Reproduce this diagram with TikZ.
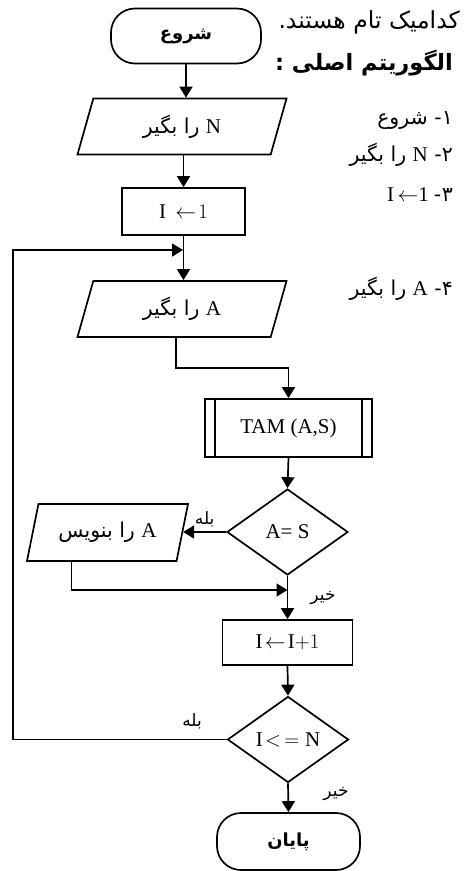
\documentclass[tikz,border=0pt]{standalone}
\usepackage{fontspec}
\setmainfont{Liberation Serif}
\newfontfamily\arabicfont[Script=Arabic]{DejaVu Sans}
\TeXXeTstate=1
\usetikzlibrary{shapes.geometric,arrows.meta,calc}
\newcommand{\latn}[1]{\hbox{\rmfamily\fontsize{21}{25}\selectfont #1}}
\newcommand{\AR}[1]{{\arabicfont\fontsize{20.5}{24}\selectfont\beginR #1\endR}}
\newcommand{\ARL}[1]{{\arabicfont\fontsize{23.5}{27}\selectfont\beginR #1\endR}}
\newcommand{\ARB}[1]{{\arabicfont\bfseries\fontsize{18}{22}\selectfont\beginR #1\endR}}
\newcommand{\ARBL}[1]{{\arabicfont\bfseries\fontsize{22.5}{26}\selectfont\beginR #1\endR}}
\newcommand{\ARS}[1]{{\arabicfont\fontsize{17}{20}\selectfont\beginR #1\endR}}
\begin{document}
\begin{tikzpicture}[x=1pt,y=-1pt,
  base/.style={draw, line width=1.7pt, inner sep=2pt, font=\fontsize{21}{25}\selectfont},
  term/.style={base, rectangle, rounded corners=24pt, minimum height=55pt},
  io/.style={base, trapezium, trapezium left angle=60, trapezium right angle=120,
     trapezium stretches body, minimum height=56pt, minimum width=209pt},
  proc/.style={base, rectangle},
  dec/.style={base, diamond, aspect=1.4, inner sep=0pt, minimum width=121pt, minimum height=86pt},
  arr/.style={line width=1.7pt, -{Triangle[length=11pt,width=13pt]}},
  ln/.style={line width=1.7pt},
  lbl/.style={inner sep=0pt},
  side/.style={inner sep=0pt, anchor=east}]
\useasboundingbox (0,0) rectangle (464,871);

% flowchart nodes
\node[term, minimum width=150pt] (start) at (186,36) {\ARB{شروع}};
\node[io] (inN) at (182,126.5) {\AR{\latn{N} را بگیر}};
\node[proc, minimum width=123pt, minimum height=47pt] (init) at (183.5,211.5) {$\mathrm{I}\,\leftarrow\!1$};
\node[io] (inA) at (182,309) {\AR{\latn{A} را بگیر}};
\node[proc, minimum width=167pt, minimum height=58pt] (tam) at (288.5,428) {TAM (A,S)};
\node[dec] (as) at (287.5,532) {A= S};
\node[io, trapezium left angle=65, trapezium right angle=115, minimum width=161pt, minimum height=57pt] (wr) at (107.5,532.5) {\AR{\latn{A} را بنویس}};
\node[proc, minimum width=130pt, minimum height=45pt] (inc) at (287.5,642.5) {$\mathrm{I}\!\leftarrow\!\mathrm{I}{+}1$};
\node[dec] (in) at (288,739.5) {$\mathrm{I}\!<\,=\mathrm{N}$};
\node[term, minimum width=143pt, minimum height=57pt] (end) at (288.5,841.5) {\ARB{پایان}};

% inner lines of the predefined process
\draw[ln] ([xshift=11pt]tam.north west) -- ([xshift=11pt]tam.south west);
\draw[ln] ([xshift=-11pt]tam.north east) -- ([xshift=-11pt]tam.south east);

% junction coordinates
\coordinate (j1) at (183,250);
\coordinate (j2) at (287.5,590);
\coordinate (aexit) at ($(inA.south)+(-6,0)$);
\coordinate (wexit) at ($(wr.south)+(-36,0)$);

% connectors
\draw[arr] (start.south) -- (start.south |- inN.north);
\draw[arr] (inN.south -| init.north) -- (init.north);
\draw[arr] (init.south) -- (init.south |- inA.north);
\draw[arr] (aexit) |- ($(aexit)!0.5!(aexit |- tam.north)$) -| (tam.north);
\draw[arr] (tam.south) -- (as.north);
\draw[arr] (as.west) -- (as.west -| wr.east) node[pos=0.5, above=4pt, lbl] {\ARS{بله}};
\draw[arr] (wexit) |- (j2);
\draw[arr] (as.south) -- (inc.north);
\draw[arr] (inc.south) -- (in.north);
\draw[arr] (in.west) -- (13,739.5) |- (j1);
\draw[arr] (in.south) -- (end.north);

% branch labels
\node[lbl] (yes2) at (192,721) {\ARS{بله}};
\node[lbl] (no1) at (323,598) {\ARS{خیر}};
\node[lbl] (no2) at (336,794) {\ARS{خیر}};

% side text
\node[side] (t0) at (460,22) {\ARL{کدامیک تام هستند.}};
\node[side] (t1) at (453,63) {\ARBL{الگوریتم اصلی :}};
\node[side] (t2) at (453,120) {\AR{۱- شروع}};
\node[side] (t3) at (453,155) {\AR{۲- \latn{N} را بگیر}};
\node[side] (t4) at (453,195) {\latn{I$\,\leftarrow$1}\hspace{5pt}{\arabicfont\fontsize{20.5}{24}\selectfont -\kern0.5pt ۳}};
\node[side] (t5) at (453,289) {\AR{۴- \latn{A} را بگیر}};
\end{tikzpicture}
\end{document}
